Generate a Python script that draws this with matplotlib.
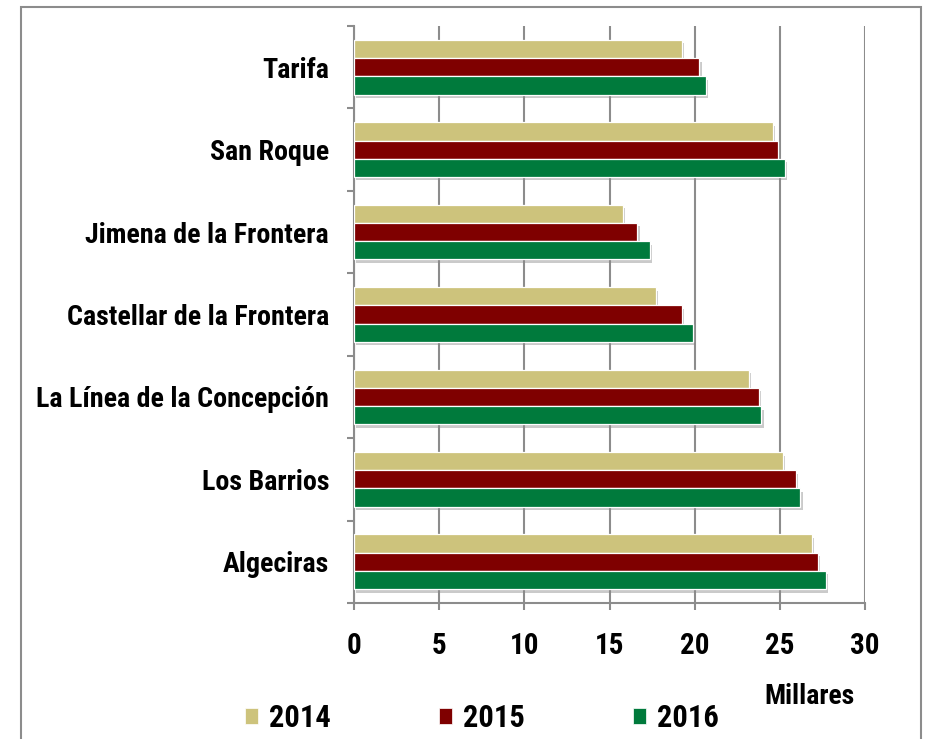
import matplotlib
matplotlib.use('Agg')
import matplotlib.pyplot as plt
import matplotlib.patheffects as pe
from matplotlib import font_manager
from matplotlib.patches import Patch, Rectangle
import numpy as np

# Municipios (de arriba a abajo) y población en miles
municipios = ['Tarifa', 'San Roque', 'Jimena de la Frontera',
              'Castellar de la Frontera', 'La Línea de la Concepción',
              'Los Barrios', 'Algeciras']
pob_2014 = [19.24, 24.57, 15.81, 17.71, 23.19, 25.17, 26.88]
pob_2015 = [20.28, 24.88, 16.64, 19.28, 23.78, 25.97, 27.23]
pob_2016 = [20.65, 25.29, 17.38, 19.89, 23.92, 26.21, 27.70]
anios = ['2014', '2015', '2016']
colores = ['#CDC37C', '#7F0000', '#007A3C']
xticks = [0, 5, 10, 15, 20, 25, 30]

# fuente estrecha si hay alguna instalada
instaladas = {f.name for f in font_manager.fontManager.ttflist}
familia = 'Liberation Sans'
for cand in ['Liberation Sans Narrow', 'Roboto Condensed', 'DejaVu Sans Condensed',
             'Open Sans Condensed', 'Noto Sans Condensed']:
    if cand in instaladas:
        familia = cand
        break
plt.rcParams['font.family'] = [familia, 'DejaVu Sans']
plt.rcParams['font.weight'] = 'bold'

fig = plt.figure(figsize=(9.26, 7.39), dpi=100)
ax = fig.add_axes([354 / 926, 1 - 603 / 739, 511 / 926, 577 / 739])

# tamaño de las etiquetas para que la más larga ocupe ~292 px
renderer = fig.canvas.get_renderer()
prueba = fig.text(0, 0, max(municipios, key=len), fontsize=18, fontweight='bold')
ancho = prueba.get_window_extent(renderer).width
prueba.remove()
tam_etq = min(21, 18 * 292 / ancho)

gris = '#8C8C8C'
y = np.arange(len(municipios))
alto = 0.221
sombra = [pe.SimplePatchShadow(offset=(1.5, -2.5), shadow_rgbFace='#8A8A8A', alpha=0.45), pe.Normal()]
for i, (serie, color) in enumerate(zip([pob_2014, pob_2015, pob_2016], colores)):
    barras = ax.barh(y + (i - 1) * alto, serie, height=alto, color=color,
                     edgecolor='white', linewidth=0.9, zorder=3)
    for b in barras:
        b.set_path_effects(sombra)

ax.set_xlim(0, 30)
ax.set_ylim(len(municipios) - 0.5, -0.5)
ax.set_xticks(xticks)
ax.set_xticklabels([str(t) for t in xticks], fontsize=21, fontweight='bold')
ax.set_yticks(y)
ax.set_yticklabels(municipios, fontsize=tam_etq, fontweight='bold')
ax.set_yticks(np.arange(-0.5, len(municipios), 1), minor=True)
ax.tick_params(axis='y', which='major', length=0, pad=18)
ax.tick_params(axis='y', which='minor', length=5, width=1.5, color=gris, direction='out')
ax.tick_params(axis='x', length=5, width=1.5, color=gris, direction='out', pad=16)
ax.xaxis.grid(True, color=gris, linewidth=1.5, zorder=0)
ax.set_axisbelow(True)
for s in ['top', 'right']:
    ax.spines[s].set_visible(False)
for s in ['left', 'bottom']:
    ax.spines[s].set_color(gris)
    ax.spines[s].set_linewidth(1.5)

fig.text(810 / 926, 1 - 697 / 739, 'Millares', ha='center', va='center',
         fontsize=20, fontweight='bold')

handles = [Patch(facecolor=c, edgecolor='white', linewidth=0.5) for c in colores]
fig.legend(handles, anios, ncol=3, loc='center', bbox_to_anchor=(482 / 926, 1 - 718 / 739),
           frameon=False, handlelength=0.42, handleheight=0.42,
           handletextpad=0.35, columnspacing=3.55, prop={'weight': 'bold', 'size': 22})

# marco exterior del gráfico
fig.add_artist(Rectangle((21 / 926, -0.1), 900 / 926, 1.1 - 7 / 739, transform=fig.transFigure,
                         fill=False, edgecolor=gris, linewidth=1.5))

fig.savefig('out.png', dpi=100, facecolor='white')
